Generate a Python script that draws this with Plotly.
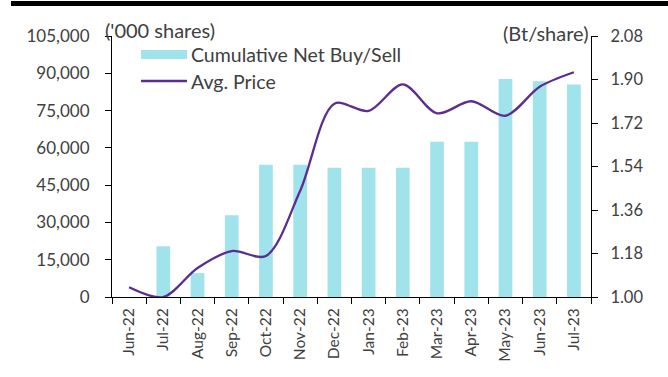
import plotly.graph_objects as go

months = ["Jun-22", "Jul-22", "Aug-22", "Sep-22", "Oct-22", "Nov-22", "Dec-22",
          "Jan-23", "Feb-23", "Mar-23", "Apr-23", "May-23", "Jun-23", "Jul-23"]
net_buy = [0, 20400, 9600, 32900, 53200, 53200, 52000,
           52000, 52000, 62500, 62500, 87700, 86800, 85500]
avg_price = [1.04, 1.00, 1.12, 1.19, 1.17, 1.44, 1.80,
             1.77, 1.88, 1.76, 1.81, 1.75, 1.87, 1.93]

left_ticks = [0, 15000, 30000, 45000, 60000, 75000, 90000, 105000]
right_ticks = [1.00, 1.18, 1.36, 1.54, 1.72, 1.90, 2.08]

BAR = "#A0E3EA"
LINE = "#5B2D91"
TXT = "#404040"
FONT = "Lato"

fig = go.Figure()
fig.add_trace(go.Bar(x=months, y=net_buy, name="Cumulative Net Buy/Sell",
                     marker=dict(color=BAR, line=dict(width=0)), width=0.4,
                     showlegend=False))
fig.add_trace(go.Scatter(x=months, y=avg_price, name="Avg. Price", yaxis="y2",
                         mode="lines", line=dict(color=LINE, width=2.3, shape="spline", smoothing=0.9),
                         showlegend=False))

fig.update_layout(
    width=668, height=377,
    margin=dict(l=112, r=77, t=36, b=80),
    plot_bgcolor="white", paper_bgcolor="white",
    font=dict(family=FONT, size=15, color=TXT),
    xaxis=dict(showline=True, linecolor="#000000", linewidth=1.2,
               ticks="outside", ticklen=6, tickcolor="#000000",
               tickson="boundaries", tickangle=-90, ticklabelstandoff=4,
               tickfont=dict(size=15.5, color=TXT), showgrid=False),
    yaxis=dict(range=[0, 105000], tickvals=left_ticks,
               ticktext=[f"{v:,}" for v in left_ticks],
               showline=True, linecolor="#000000", linewidth=1.2,
               ticks="outside", ticklen=6, tickcolor="#000000",
               ticklabelstandoff=12,
               showgrid=False, zeroline=False,
               tickfont=dict(size=17, color=TXT)),
    yaxis2=dict(range=[1.00, 2.08], tickvals=right_ticks,
                ticktext=[f"{v:.2f}" for v in right_ticks],
                overlaying="y", side="right",
                showline=True, linecolor="#000000", linewidth=1.2,
                ticks="outside", ticklen=6, tickcolor="#000000",
                ticklabelstandoff=9,
                showgrid=False, zeroline=False,
                tickfont=dict(size=16.5, color=TXT)),
    bargap=0.6,
)

# top rule
fig.add_shape(type="rect", xref="paper", yref="paper",
              x0=(11 - 112) / 479, x1=(668 - 112) / 479,
              y0=(297 - 6) / 261, y1=(297 - 1) / 261,
              fillcolor="#000000", line=dict(width=0), layer="above")

# axis unit labels
fig.add_annotation(text="('000 shares)", xref="paper", yref="paper",
                   x=(103 - 112) / 479, y=(297 - 30) / 261, xanchor="left", yanchor="middle",
                   showarrow=False, font=dict(size=20, color=TXT, family=FONT))
fig.add_annotation(text="(Bt/share)", xref="paper", yref="paper",
                   x=(591 - 112) / 479, y=(297 - 33) / 261, xanchor="right", yanchor="middle",
                   showarrow=False, font=dict(size=20, color=TXT, family=FONT))

# legend
lx0, lx1 = (141 - 112) / 479, (187 - 112) / 479
fig.add_shape(type="rect", xref="paper", yref="paper",
              x0=lx0, x1=lx1, y0=(297 - 59) / 261, y1=(297 - 50) / 261,
              fillcolor=BAR, line=dict(width=0))
fig.add_shape(type="line", xref="paper", yref="paper",
              x0=lx0, x1=lx1, y0=(297 - 81) / 261, y1=(297 - 81) / 261,
              line=dict(color=LINE, width=2.3))
fig.add_annotation(text="Cumulative Net Buy/Sell", xref="paper", yref="paper",
                   x=(189 - 112) / 479, y=(297 - 54) / 261, xanchor="left", yanchor="middle",
                   showarrow=False, font=dict(size=19.5, color=TXT, family=FONT))
fig.add_annotation(text="Avg. Price", xref="paper", yref="paper",
                   x=(189 - 112) / 479, y=(297 - 81) / 261, xanchor="left", yanchor="middle",
                   showarrow=False, font=dict(size=19.5, color=TXT, family=FONT))

fig.write_html("out.html")
